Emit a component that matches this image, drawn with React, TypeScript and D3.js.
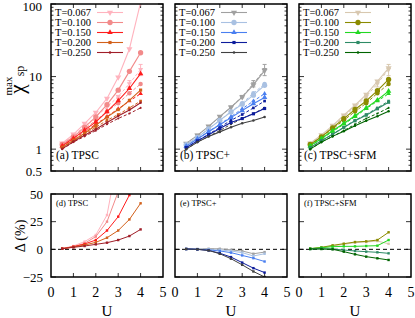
import React, { useEffect, useRef } from "react";
import * as d3 from "d3";

// interaction values U where every series was computed
const U = [0.5, 1, 1.5, 2, 2.5, 3, 3.5, 4];
const temps = ["T=0.067", "T=0.100", "T=0.150", "T=0.200", "T=0.250"];
const xTicks = [0, 1, 2, 3, 4, 5];
const chiTicks = [0.5, 1, 10, 100];
const chiTickLabels = ["0.5", "1", "10", "100"];
const deltaTicks = [-25, 0, 25, 50];
const deltaTickLabels = ["\u221225", "0", "25", "50"];

// reference data (dashed lines)
const ref067 = [1.2, 1.55, 2.05, 2.8, 3.8, 5.3, 8.0, 12.5];
const ref100 = [1.15, 1.45, 1.9, 2.5, 3.3, 4.3, 5.9, 7.9];
const ref150 = [1.1, 1.38, 1.75, 2.2, 2.8, 3.6, 4.6, 5.8];
const ref200 = [1.05, 1.3, 1.6, 2.0, 2.5, 3.0, 3.7, 4.6];
const ref250 = [1.0, 1.25, 1.5, 1.8, 2.2, 2.65, 3.1, 3.7];
const ref067Err = [0, 0, 0, 0, 0, 0.2, 0.8, 2.2];

// TPSC
const tpsc067 = [1.21, 1.6, 2.25, 3.2, 5.0, 9.8, 24, 105];
const tpsc100 = [1.16, 1.48, 2.0, 2.79, 4.1, 6.5, 11.8, 21.3];
const tpsc150 = [1.11, 1.41, 1.83, 2.38, 3.28, 4.66, 6.85, 11.0];
const tpsc200 = [1.06, 1.33, 1.66, 2.13, 2.76, 3.51, 4.7, 6.51];
const tpsc250 = [1.01, 1.27, 1.55, 1.88, 2.33, 2.87, 3.47, 4.37];
const tpscD067 = [0.8, 3, 7, 13, 31, 85, 200, 700];
const tpscD100 = [0.6, 2.4, 5.4, 11.5, 25, 52, 100, 170];
const tpscD150 = [0.6, 2.4, 4.8, 8.4, 17, 29.5, 49, 90];
const tpscD200 = [0.6, 2.1, 3.9, 6.3, 10.5, 17, 27, 41.6];
const tpscD250 = [0.6, 1.8, 3, 4.5, 6, 8.4, 12, 18];

// TPSC+
const plus067 = [1.2, 1.55, 2.06, 2.81, 3.78, 5.22, 7.68, 12.1];
const plus100 = [1.15, 1.45, 1.9, 2.49, 3.25, 4.17, 5.55, 7.58];
const plus150 = [1.1, 1.38, 1.74, 2.17, 2.72, 3.4, 4.23, 5.16];
const plus200 = [1.05, 1.3, 1.58, 1.93, 2.33, 2.64, 3.07, 3.63];
const plus250 = [1.0, 1.25, 1.49, 1.73, 2.01, 2.28, 2.48, 2.78];
const plusD067 = [0.3, 0.3, 0.5, 0.5, -0.5, -1.5, -4, -2.5];
const plusD100 = [0.3, 0.2, 0, -0.5, -1.5, -3, -6, -4];
const plusD150 = [0.3, 0, -0.5, -1.5, -3, -5.5, -8, -11];
const plusD200 = [0.3, 0, -1, -3.5, -7, -12, -17, -21];
const plusD250 = [0.3, 0, -1, -4, -8.5, -14, -20, -25];

// TPSC+SFM
const sfm067 = [1.21, 1.57, 2.11, 2.93, 4.03, 5.65, 8.6, 13.1];
const sfm100 = [1.16, 1.48, 1.97, 2.63, 3.52, 4.61, 6.4, 9.12];
const sfm150 = [1.11, 1.4, 1.79, 2.26, 2.88, 3.71, 4.75, 6.29];
const sfm200 = [1.05, 1.31, 1.6, 1.99, 2.46, 2.94, 3.6, 4.43];
const sfm250 = [1.0, 1.25, 1.5, 1.76, 2.1, 2.47, 2.85, 3.34];
const sfmD067 = [0.5, 1.5, 3, 4.5, 6, 6.6, 7.5, 5];
const sfmD100 = [0.6, 1.8, 3.6, 5.1, 6.6, 7.2, 8.4, 15.4];
const sfmD150 = [0.6, 1.5, 2.4, 2.7, 2.7, 3, 3.3, 8.4];
const sfmD200 = [0.3, 0.6, 0.3, -0.6, -1.5, -2.1, -2.7, -3.6];
const sfmD250 = [0.3, 0.3, 0, -2.1, -4.5, -6.6, -8.1, -9.6];

const refs = [ref067, ref100, ref150, ref200, ref250];

const methods = [
  {
    top: "(a) TPSC",
    bottom: "(d) TPSC",
    chi: [tpsc067, tpsc100, tpsc150, tpsc200, tpsc250],
    delta: [tpscD067, tpscD100, tpscD150, tpscD200, tpscD250],
    colors: ["#ffb3be", "#f28a8a", "#ff1c1c", "#d2601a", "#a01e28"],
  },
  {
    top: "(b) TPSC+",
    bottom: "(e) TPSC+",
    chi: [plus067, plus100, plus150, plus200, plus250],
    delta: [plusD067, plusD100, plusD150, plusD200, plusD250],
    colors: ["#a0a0a0", "#a9c1e2", "#4a7ff0", "#0c1c9c", "#404040"],
  },
  {
    top: "(c) TPSC+SFM",
    bottom: "(f) TPSC+SFM",
    chi: [sfm067, sfm100, sfm150, sfm200, sfm250],
    delta: [sfmD067, sfmD100, sfmD150, sfmD200, sfmD250],
    colors: ["#d8c8b0", "#8b8b00", "#22d822", "#2e8b66", "#006400"],
  },
];

const font = "Liberation Serif";

function symbolPath(k, size) {
  const types = [d3.symbolTriangle, d3.symbolCircle, d3.symbolTriangle, d3.symbolSquare, d3.symbolCircle];
  return d3.symbol().type(types[k]).size(size)();
}
const markSize = [16, 22, 13, 10, 5];

export default function App() {
  const ref = useRef(null);

  useEffect(() => {
    const svg = d3.select(ref.current);
    svg.selectAll("*").remove();

    const panelX = [51, 175, 299];
    const pw = 112;
    const top = { y0: 4, y1: 171 };
    const bot = { y0: 194, y1: 277 };

    const yTop = d3.scaleLog().domain([0.5, 100]).range([top.y1, top.y0]);
    const yBot = d3.scaleLinear().domain([-25, 50]).range([bot.y1, bot.y0]);
    const minor = [0.6, 0.7, 0.8, 0.9, 2, 3, 4, 5, 6, 7, 8, 9, 20, 30, 40, 50, 60, 70, 80, 90];

    const defs = svg.append("defs");

    methods.forEach((m, i) => {
      const px = panelX[i];
      const x = d3.scaleLinear().domain([0, 5]).range([px, px + pw]);

      defs.append("clipPath").attr("id", `ct${i}`).append("rect")
        .attr("x", px).attr("y", top.y0).attr("width", pw).attr("height", top.y1 - top.y0);
      defs.append("clipPath").attr("id", `cb${i}`).append("rect")
        .attr("x", px).attr("y", bot.y0).attr("width", pw).attr("height", bot.y1 - bot.y0);

      // ---------- top panel ----------
      const gt = svg.append("g");
      const axT = gt.append("g").attr("stroke", "#000").attr("stroke-width", 0.8);
      xTicks.slice(1, -1).forEach((t) => {
        axT.append("line").attr("x1", x(t)).attr("x2", x(t)).attr("y1", top.y1).attr("y2", top.y1 - 4);
        axT.append("line").attr("x1", x(t)).attr("x2", x(t)).attr("y1", top.y0).attr("y2", top.y0 + 4);
      });
      chiTicks.concat(minor).forEach((t) => {
        const len = chiTicks.includes(t) ? 5 : 2.5;
        axT.append("line").attr("x1", px).attr("x2", px + len).attr("y1", yTop(t)).attr("y2", yTop(t));
        axT.append("line").attr("x1", px + pw).attr("x2", px + pw - len).attr("y1", yTop(t)).attr("y2", yTop(t));
      });

      const plotT = gt.append("g").attr("clip-path", `url(#ct${i})`);
      const lineT = d3.line().x((_, j) => x(U[j])).y((d) => yTop(d));

      refs.forEach((r, k) => {
        plotT.append("path").datum(r).attr("d", lineT).attr("fill", "none")
          .attr("stroke", m.colors[k]).attr("stroke-width", 1).attr("stroke-dasharray", "3,2");
        if (k === 0) {
          r.forEach((v, j) => {
            const e = ref067Err[j];
            if (!e) return;
            plotT.append("line").attr("x1", x(U[j])).attr("x2", x(U[j]))
              .attr("y1", yTop(v - e)).attr("y2", yTop(v + e)).attr("stroke", m.colors[k]).attr("stroke-width", 1);
            [v - e, v + e].forEach((w) => {
              plotT.append("line").attr("x1", x(U[j]) - 2).attr("x2", x(U[j]) + 2)
                .attr("y1", yTop(w)).attr("y2", yTop(w)).attr("stroke", m.colors[k]).attr("stroke-width", 1);
            });
          });
        }
        plotT.selectAll(null).data(r).join("path")
          .attr("d", symbolPath(k, markSize[k] * 0.7))
          .attr("transform", (d, j) => `translate(${x(U[j])},${yTop(d)})${k === 0 ? " rotate(180)" : ""}`)
          .attr("fill", m.colors[k]);
      });

      m.chi.forEach((s, k) => {
        plotT.append("path").datum(s).attr("d", lineT).attr("fill", "none")
          .attr("stroke", m.colors[k]).attr("stroke-width", 1.1);
        plotT.selectAll(null).data(s).join("path")
          .attr("d", symbolPath(k, markSize[k]))
          .attr("transform", (d, j) => `translate(${x(U[j])},${yTop(d)})${k === 0 ? " rotate(180)" : ""}`)
          .attr("fill", m.colors[k]);
      });

      // legend
      temps.forEach((t, k) => {
        const ly = 12.5 + k * 10;
        gt.append("text").attr("x", px + 4).attr("y", ly).attr("dy", "0.35em")
          .attr("font-family", font).attr("font-size", 10.5).text(t);
        gt.append("line").attr("x1", px + 46).attr("x2", px + 72).attr("y1", ly).attr("y2", ly)
          .attr("stroke", m.colors[k]).attr("stroke-width", 1.1);
        gt.append("path").attr("d", symbolPath(k, markSize[k]))
          .attr("transform", `translate(${px + 59},${ly})${k === 0 ? " rotate(180)" : ""}`)
          .attr("fill", m.colors[k]);
      });

      gt.append("text").attr("x", px + 5).attr("y", 159).attr("font-family", font)
        .attr("font-size", 11.5).text(m.top);

      gt.append("rect").attr("x", px).attr("y", top.y0).attr("width", pw).attr("height", top.y1 - top.y0)
        .attr("fill", "none").attr("stroke", "#000").attr("stroke-width", 1.5);

      // ---------- bottom panel ----------
      const gb = svg.append("g");
      const axB = gb.append("g").attr("stroke", "#000").attr("stroke-width", 0.8);
      xTicks.slice(1, -1).forEach((t) => {
        axB.append("line").attr("x1", x(t)).attr("x2", x(t)).attr("y1", bot.y1).attr("y2", bot.y1 - 4);
        axB.append("line").attr("x1", x(t)).attr("x2", x(t)).attr("y1", bot.y0).attr("y2", bot.y0 + 4);
      });
      deltaTicks.forEach((t) => {
        axB.append("line").attr("x1", px).attr("x2", px + 5).attr("y1", yBot(t)).attr("y2", yBot(t));
        axB.append("line").attr("x1", px + pw).attr("x2", px + pw - 5).attr("y1", yBot(t)).attr("y2", yBot(t));
      });

      gb.append("line").attr("x1", px).attr("x2", px + pw).attr("y1", yBot(0)).attr("y2", yBot(0))
        .attr("stroke", "#000").attr("stroke-width", 1).attr("stroke-dasharray", "4,3");

      const plotB = gb.append("g").attr("clip-path", `url(#cb${i})`);
      const lineB = d3.line().x((_, j) => x(U[j])).y((d) => yBot(d));
      m.delta.forEach((s, k) => {
        plotB.append("path").datum(s).attr("d", lineB).attr("fill", "none")
          .attr("stroke", m.colors[k]).attr("stroke-width", 1);
        plotB.selectAll(null).data(s).join("rect")
          .attr("x", (d, j) => x(U[j]) - 1.2).attr("y", (d) => yBot(d) - 1.2)
          .attr("width", 2.4).attr("height", 2.4).attr("fill", m.colors[k]);
      });

      gb.append("text").attr("x", px + 5).attr("y", 205.5).attr("font-family", font)
        .attr("font-size", 8.5).text(m.bottom);

      gb.append("rect").attr("x", px).attr("y", bot.y0).attr("width", pw).attr("height", bot.y1 - bot.y0)
        .attr("fill", "none").attr("stroke", "#000").attr("stroke-width", 1.5);

      // x tick labels and axis title
      xTicks.forEach((t) => {
        svg.append("text").attr("x", x(t)).attr("y", 297).attr("text-anchor", "middle")
          .attr("font-family", font).attr("font-size", 14).text(t);
      });
      svg.append("text").attr("x", px + pw / 2).attr("y", 316).attr("text-anchor", "middle")
        .attr("font-family", font).attr("font-size", 15).text("U");
    });

    // y tick labels
    chiTicks.forEach((t, k) => {
      svg.append("text").attr("x", 42).attr("y", Math.max(yTop(t), 6)).attr("dy", "0.35em").attr("text-anchor", "end")
        .attr("font-family", font).attr("font-size", 13).text(chiTickLabels[k]);
    });
    deltaTicks.forEach((t, k) => {
      svg.append("text").attr("x", 43).attr("y", yBot(t)).attr("dy", "0.35em").attr("text-anchor", "end")
        .attr("font-family", font).attr("font-size", 13).text(deltaTickLabels[k]);
    });

    // y axis titles
    svg.append("text").attr("transform", "translate(24,89) rotate(-90)").attr("text-anchor", "middle")
      .attr("font-family", font).attr("font-size", 21).text("\u03c7");
    svg.append("text").attr("transform", "translate(24,71) rotate(-90)").attr("text-anchor", "middle")
      .attr("font-family", font).attr("font-size", 12).text("sp");
    svg.append("text").attr("transform", "translate(12,86) rotate(-90)").attr("text-anchor", "middle")
      .attr("font-family", font).attr("font-size", 11).text("max");
    svg.append("text").attr("transform", "translate(25,236) rotate(-90)").attr("text-anchor", "middle")
      .attr("font-family", font).attr("font-size", 14).text("\u0394 (%)");
  }, []);

  return (
    <svg
      ref={ref}
      width={415}
      height={318}
      style={{ position: "absolute", left: 0, top: 0, background: "#fff" }}
    />
  );
}
